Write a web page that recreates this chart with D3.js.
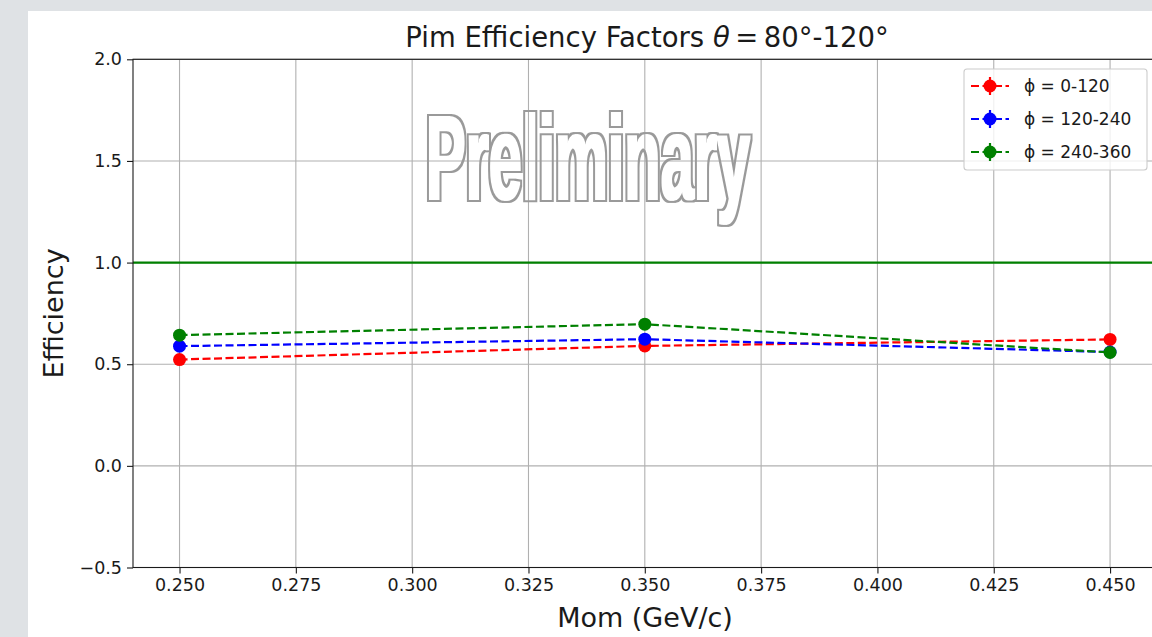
<!DOCTYPE html>
<html>
<head>
<meta charset="utf-8">
<script src="https://cdn.jsdelivr.net/npm/d3@7"></script>
<style>
  html, body { margin: 0; padding: 0; background: #dfe2e5; }
  svg { display: block; }
  text { font-family: "DejaVu Sans", sans-serif; fill: #1a1a1a; }
</style>
</head>
<body>
<svg id="chart" width="1152" height="637"></svg>
<script>
// Momentum bins (GeV/c)
const momentum = [0.25, 0.35, 0.45];
// Efficiency per phi sector
const phi0to120 = [0.523, 0.590, 0.622];
const phi120to240 = [0.589, 0.623, 0.560];
const phi240to360 = [0.643, 0.697, 0.558];
// Statistical uncertainties
const err0to120 = [0.012, 0.015, 0.012];
const err120to240 = [0.012, 0.013, 0.012];
const err240to360 = [0.012, 0.012, 0.012];
const seriesLabels = ["\u03d5 = 0-120", "\u03d5 = 120-240", "\u03d5 = 240-360"];
const seriesColors = ["#ff0000", "#0000ff", "#008000"];
// Axis ticks
const xTicks = [0.25, 0.275, 0.3, 0.325, 0.35, 0.375, 0.4, 0.425, 0.45];
const xTickLabels = ["0.250", "0.275", "0.300", "0.325", "0.350", "0.375", "0.400", "0.425", "0.450"];
const yTicks = [-0.5, 0.0, 0.5, 1.0, 1.5, 2.0];
const yTickLabels = ["\u22120.5", "0.0", "0.5", "1.0", "1.5", "2.0"];
const referenceLevel = 1.0;

const series = [
  { label: seriesLabels[0], color: seriesColors[0], values: phi0to120, errors: err0to120 },
  { label: seriesLabels[1], color: seriesColors[1], values: phi120to240, errors: err120to240 },
  { label: seriesLabels[2], color: seriesColors[2], values: phi240to360, errors: err240to360 }
];

const svg = d3.select("#chart");
const defs = svg.append("defs");

// White figure panel
svg.append("rect").attr("x", 28).attr("y", 11).attr("width", 1152 - 28).attr("height", 637 - 11).attr("fill", "#ffffff");

const L = 133, R = 1156.6, T = 59.3, B = 567.5;
const x = d3.scaleLinear().domain([0.24, 0.46]).range([L, R]);
const y = d3.scaleLinear().domain([-0.5, 2.0]).range([B, T]);

defs.append("clipPath").attr("id", "plotclip")
  .append("rect").attr("x", L).attr("y", T).attr("width", R - L).attr("height", B - T);

// Outline filter: a ring around the glyphs, grown outwards to make the lettering heavier
const outline = defs.append("filter").attr("id", "outline")
  .attr("x", "-5%").attr("y", "-10%").attr("width", "110%").attr("height", "120%");
outline.append("feMorphology").attr("in", "SourceAlpha").attr("operator", "dilate").attr("radius", 3).attr("result", "outer");
outline.append("feMorphology").attr("in", "SourceAlpha").attr("operator", "dilate").attr("radius", 1.4).attr("result", "inner");
outline.append("feComposite").attr("in", "outer").attr("in2", "inner").attr("operator", "out").attr("result", "ring");
outline.append("feFlood").attr("flood-color", "#9a9a9a").attr("result", "ink");
outline.append("feComposite").attr("in", "ink").attr("in2", "ring").attr("operator", "in");

// Grid
const grid = svg.append("g").attr("stroke", "#b0b0b0").attr("stroke-width", 1.1);
grid.selectAll("line.gx").data(xTicks).join("line")
  .attr("x1", d => x(d)).attr("x2", d => x(d)).attr("y1", T).attr("y2", B);
grid.selectAll("line.gy").data(yTicks).join("line")
  .attr("x1", L).attr("x2", R).attr("y1", d => y(d)).attr("y2", d => y(d));

// Watermark: tall condensed outlined lettering
svg.append("g").attr("filter", "url(#outline)")
  .append("text")
  .attr("transform", "translate(426,199) scale(1,1.86)")
  .attr("x", 0).attr("y", 0)
  .attr("textLength", 324).attr("lengthAdjust", "spacingAndGlyphs")
  .style("font-family", "'Liberation Sans', Arial, sans-serif")
  .style("font-weight", "bold")
  .style("font-size", "64px")
  .style("fill", "#000")
  .text("Preliminary");

const plot = svg.append("g").attr("clip-path", "url(#plotclip)");

// Reference line at unit efficiency
plot.append("line")
  .attr("x1", L).attr("x2", R)
  .attr("y1", y(referenceLevel)).attr("y2", y(referenceLevel))
  .attr("stroke", "#008000").attr("stroke-width", 2.2);

const line = d3.line().x((d, i) => x(momentum[i])).y(d => y(d));

series.forEach(s => {
  const g = plot.append("g");
  g.append("path").datum(s.values)
    .attr("d", line)
    .attr("fill", "none")
    .attr("stroke", s.color)
    .attr("stroke-width", 2.2)
    .attr("stroke-dasharray", "8,3.5");
  g.selectAll("line.err").data(s.values).join("line")
    .attr("x1", (d, i) => x(momentum[i])).attr("x2", (d, i) => x(momentum[i]))
    .attr("y1", (d, i) => y(d - s.errors[i])).attr("y2", (d, i) => y(d + s.errors[i]))
    .attr("stroke", s.color).attr("stroke-width", 2.2);
  g.selectAll("circle").data(s.values).join("circle")
    .attr("cx", (d, i) => x(momentum[i])).attr("cy", d => y(d))
    .attr("r", 6.5).attr("fill", s.color);
});

// Axes
const xAxis = svg.append("g").attr("transform", `translate(0,${B})`)
  .call(d3.axisBottom(x).tickValues(xTicks).tickFormat((d, i) => xTickLabels[i]).tickSize(6).tickPadding(5));
const yAxis = svg.append("g").attr("transform", `translate(${L},0)`)
  .call(d3.axisLeft(y).tickValues(yTicks).tickFormat((d, i) => yTickLabels[i]).tickSize(6).tickPadding(5));
[xAxis, yAxis].forEach(a => {
  a.select(".domain").remove();
  a.selectAll(".tick line").attr("stroke", "#1a1a1a").attr("stroke-width", 1.1);
  a.selectAll(".tick text").style("font-size", "17.5px").style("font-family", "'DejaVu Sans', sans-serif").attr("fill", "#1a1a1a");
});

// Spines
svg.append("rect").attr("x", L).attr("y", T).attr("width", R - L).attr("height", B - T)
  .attr("fill", "none").attr("stroke", "#1a1a1a").attr("stroke-width", 1.1);

// Title
const title = svg.append("text").attr("x", 647).attr("y", 47)
  .attr("text-anchor", "middle").style("font-size", "27.5px");
title.append("tspan").text("Pim Efficiency Factors ");
title.append("tspan").style("font-style", "italic").text("\u03b8");
title.append("tspan").text("\u2009=\u200980\u00b0-120\u00b0");

// Axis labels
svg.append("text").attr("x", 645).attr("y", 627).attr("text-anchor", "middle")
  .style("font-size", "27px").text("Mom (GeV/c)");
svg.append("text").attr("transform", "translate(63,313.4) rotate(-90)").attr("text-anchor", "middle")
  .style("font-size", "27px").text("Efficiency");

// Legend
const lg = svg.append("g");
lg.append("rect").attr("x", 964).attr("y", 69).attr("width", 183).attr("height", 101).attr("rx", 3)
  .attr("fill", "#ffffff").attr("fill-opacity", 0.8).attr("stroke", "#cccccc").attr("stroke-width", 1.1);
series.forEach((s, i) => {
  const cy = 86 + i * 33;
  const item = lg.append("g");
  item.append("line").attr("x1", 971).attr("x2", 1009).attr("y1", cy).attr("y2", cy)
    .attr("stroke", s.color).attr("stroke-width", 2.2).attr("stroke-dasharray", "8,3.5");
  item.append("line").attr("x1", 990).attr("x2", 990).attr("y1", cy - 9).attr("y2", cy + 9)
    .attr("stroke", s.color).attr("stroke-width", 2.2);
  item.append("circle").attr("cx", 990).attr("cy", cy).attr("r", 6.5).attr("fill", s.color);
  item.append("text").attr("x", 1024).attr("y", cy + 6).style("font-size", "17px").text(s.label);
});
</script>
</body>
</html>
